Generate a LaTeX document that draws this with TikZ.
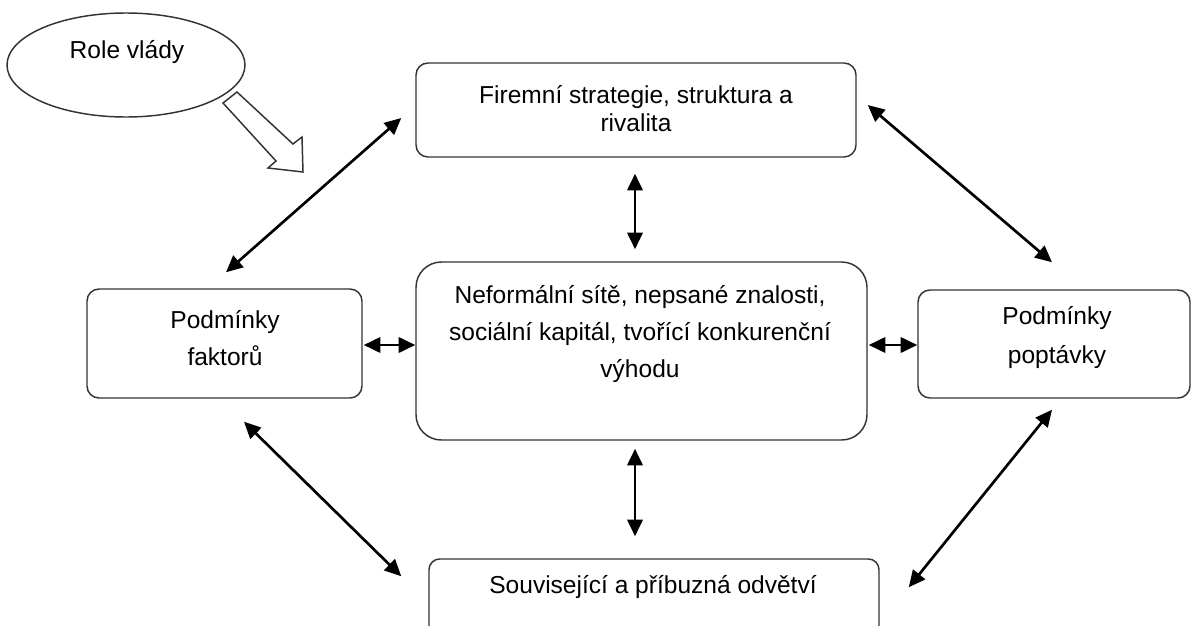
\documentclass[tikz,border=0pt]{standalone}
\usepackage{fontspec}
\setmainfont{Liberation Sans}
\usetikzlibrary{shapes.geometric,arrows.meta,calc}
\begin{document}
\begin{tikzpicture}[x=0.75pt,y=-0.75pt,
  box/.style={draw=black!80,line width=1.1pt,rounded corners=9pt,inner sep=0pt},
  txt/.style={align=center,font=\fontsize{18.4}{27.75}\selectfont,inner sep=0pt},
  biarrow/.style={{Triangle[length=12.5pt,width=11.5pt]}-{Triangle[length=12.5pt,width=11.5pt]},line width=2pt,black}]
\useasboundingbox (0,0) rectangle (1192,625);
\clip (0,0) rectangle (1192,625);
% boxes
\node[box, minimum width=330pt, minimum height=70.5pt] (top) at (636,110) {};
\node[txt, font=\fontsize{18.4}{21}\selectfont] (top-t) at (636,109) {Firemní strategie, struktura a\\rivalita};
\node[box, rounded corners=19pt, minimum width=338.25pt, minimum height=133.5pt] (mid) at (641.5,351) {};
\node[txt] (mid-t) at (640,334.5) {Neformální sítě, nepsané znalosti,\\sociální kapitál, tvořící konkurenční\\výhodu};
\node[box, minimum width=206.25pt, minimum height=81.75pt] (left) at (224.5,343.5) {};
\node[txt] (left-t) at (225,338.5) {Podmínky\\faktorů};
\node[box, minimum width=204pt, minimum height=81pt] (right) at (1054,344) {};
\node[txt, font=\fontsize{18.4}{29.25}\selectfont] (right-t) at (1057,337.5) {Podmínky\\poptávky};
\node[box, rounded corners=8pt, minimum width=337.5pt, minimum height=61.5pt] (bot) at (654,600) {};
\node[txt] (bot-t) at (653,587) {Související a příbuzná odvětví};
\node[draw=black!80, line width=1.1pt, ellipse, minimum width=178.5pt, minimum height=78pt, inner sep=0pt] (gov) at (126,65) {};
\node[txt] (gov-t) at (127,52) {Role vlády};
% block arrow from the government ellipse
\draw[draw=black!80, line width=1.1pt, fill=white, line join=miter]
  (237,92) -- (293,144) -- (302,137) -- (303,172) -- (268,168) -- (276,161) -- (223,103) -- cycle;
% connectors
\draw[biarrow] ($(top.west)+(-14,8)$) -- ($(left.north)+(1.5,-16)$);
\draw[biarrow] ($(top.east)+(11,-5)$) -- ($(right.north)+(-2,-27)$);
\draw[biarrow] ($(top.south)+(-1,16)$) -- ($(mid.north)+(-6.5,-12)$);
\draw[biarrow] ($(left.east)+(1,1.5)$) -- ($(mid.west)+(0,-6)$);
\draw[biarrow] ($(mid.east)+(1,-6)$) -- ($(right.west)+(0,1)$);
\draw[biarrow] ($(mid.south)+(-6.5,8)$) -- ($(bot.north)+(-19,-22)$);
\draw[biarrow] ($(left.south)+(19.5,23)$) -- ($(bot.north west)+(-27,18)$);
\draw[biarrow] ($(right.south)+(-2,11)$) -- ($(bot.north east)+(29,29)$);
\end{tikzpicture}
\end{document}
